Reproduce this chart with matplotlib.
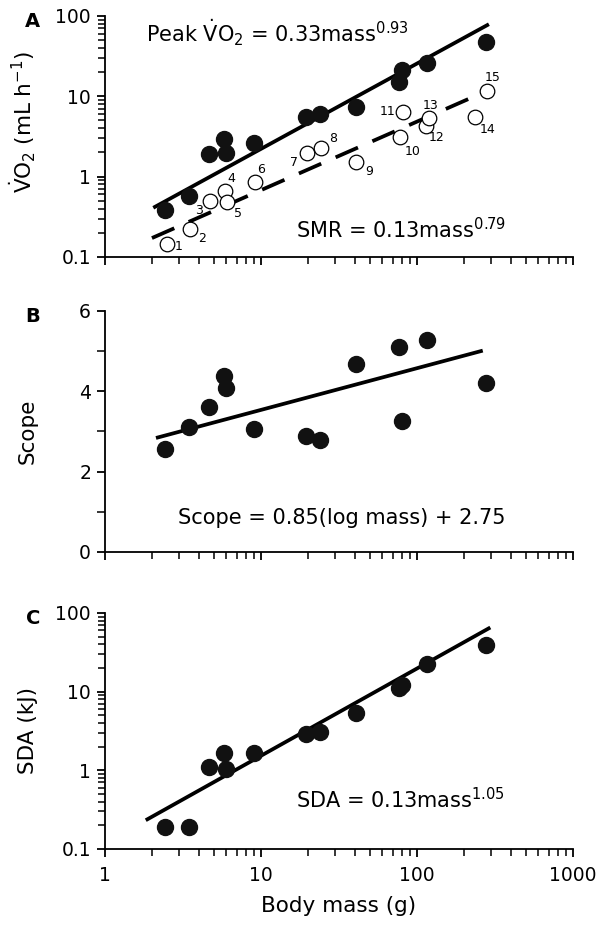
import numpy as np
import matplotlib
matplotlib.use("Agg")
import matplotlib.pyplot as plt
from matplotlib.ticker import LogLocator, NullFormatter, FixedLocator

plt.rcParams["font.family"] = ["DejaVu Sans"]
plt.rcParams["mathtext.fontset"] = "dejavusans"

# Body mass (g) of the 15 species with SMR, and of the 13 with peak / scope / SDA
smr_mass = [2.48, 3.50, 4.72, 5.84, 6.08, 9.1, 19.6, 24.1, 40.9, 78.2, 81.3, 114, 119, 235, 281]
smr_vo2 = [0.147, 0.223, 0.50, 0.667, 0.478, 0.846, 1.96, 2.28, 1.51, 3.09, 6.43, 4.27, 5.32, 5.57, 11.6]
smr_ids = [str(i) for i in range(1, 16)]

mass = [2.44, 3.45, 4.65, 5.8, 6.0, 9.0, 19.5, 23.9, 40.5, 77.0, 80.0, 116, 276]
peak_vo2 = [0.387, 0.567, 1.90, 2.92, 1.99, 2.60, 5.57, 5.96, 7.28, 14.9, 21.2, 26.1, 47.6]
scope = [2.56, 3.10, 3.61, 4.38, 4.07, 3.07, 2.88, 2.78, 4.69, 5.10, 3.27, 5.27, 4.21]
sda = [0.192, 0.192, 1.11, 1.65, 1.03, 1.65, 2.90, 3.10, 5.41, 11.2, 12.0, 22.4, 38.7]

# Fitted lines as drawn: (coefficient, exponent, x start, x end)
peak_fit = (0.192, 1.062, 2.04, 289)
smr_fit = (0.0952, 0.853, 2.0, 265)
scope_fit = (2.499, 1.038, 2.18, 257)   # intercept, slope on log10(mass)
sda_fit = (0.119, 1.109, 1.87, 288)

# label offsets (points) for species numbers
id_offsets = [(9, -2), (9, -7), (-8, -7), (5, 9), (8, -8), (5, 9), (-9, -7), (9, 7),
              (9, -7), (9, -10), (-11, 0), (8, -8), (1, 9), (9, -9), (4, 10)]

fig = plt.figure(figsize=(6.01, 9.26), dpi=100)
left, width = 0.1747, 0.7787
axA = fig.add_axes([left, 0.7225, width, 0.2603])
axB = fig.add_axes([left, 0.4039, width, 0.2603])
axC = fig.add_axes([left, 0.0832, width, 0.2549])

tick_fs = 13.5
note_fs = 15
label_fs = 15.5
for ax in (axA, axB, axC):
    ax.set_xscale("log")
    ax.set_xlim(1, 1000)
    ax.spines["top"].set_visible(False)
    ax.spines["right"].set_visible(False)
    ax.spines["left"].set_linewidth(1.3)
    ax.spines["bottom"].set_linewidth(1.3)
    ax.xaxis.set_major_locator(LogLocator(base=10, numticks=10))
    ax.xaxis.set_minor_locator(LogLocator(base=10, subs=np.arange(2, 10), numticks=10))
    ax.xaxis.set_minor_formatter(NullFormatter())
    ax.tick_params(which="major", direction="out", length=6, width=1.3, labelsize=tick_fs, pad=4)
    ax.tick_params(which="minor", direction="out", length=5, width=1.1)
    ax.tick_params(axis="x", which="major", pad=6)
    ax.yaxis.set_label_coords(-0.143, 0.5)

for ax in (axA, axB):
    ax.tick_params(axis="x", which="both", labelbottom=False)

axC.set_xticks([1, 10, 100, 1000])
axC.set_xticklabels(["1", "10", "100", "1000"])

# ---- Panel A
axA.set_yscale("log")
axA.set_ylim(0.1, 100)
axA.set_yticks([0.1, 1, 10, 100])
axA.set_yticklabels(["0.1", "1", "10", "100"])
axA.yaxis.set_minor_locator(LogLocator(base=10, subs=np.arange(2, 10), numticks=10))
axA.yaxis.set_minor_formatter(NullFormatter())

xs = np.array([peak_fit[2], peak_fit[3]])
axA.plot(xs, peak_fit[0] * xs ** peak_fit[1], color="black", lw=2.7, solid_capstyle="butt", zorder=2)
xs = np.array([smr_fit[2], smr_fit[3]])
axA.plot(xs, smr_fit[0] * xs ** smr_fit[1], color="black", lw=2.7, dashes=(6.5, 4.2),
         dash_capstyle="butt", zorder=2)
axA.plot(mass, peak_vo2, "o", color="#111111", ms=11.5, zorder=3)
axA.plot(smr_mass, smr_vo2, "o", mfc="white", mec="black", mew=0.9, ms=10.5, zorder=3)
for m, v, t, off in zip(smr_mass, smr_vo2, smr_ids, id_offsets):
    axA.annotate(t, (m, v), textcoords="offset points", xytext=off, fontsize=9,
                 ha="center", va="center")

axA.text(0.088, 0.93, r"Peak $\dot{\mathrm{V}}\mathrm{O}_2$ = 0.33mass$^{0.93}$",
         transform=axA.transAxes, fontsize=note_fs, ha="left", va="center")
axA.text(0.408, 0.112, r"SMR = 0.13mass$^{0.79}$", transform=axA.transAxes,
         fontsize=note_fs, ha="left", va="center")
axA.set_ylabel(r"$\dot{\mathrm{V}}\mathrm{O}_2$ (mL h$^{\mathrm{-1}}$)", fontsize=label_fs)
axA.yaxis.set_label_coords(-0.143, 0.56)

# ---- Panel B
axB.set_ylim(0, 6)
axB.yaxis.set_major_locator(FixedLocator([0, 2, 4, 6]))
axB.yaxis.set_minor_locator(FixedLocator([1, 3, 5]))
axB.tick_params(axis="y", which="minor", length=6)
xs = np.array([scope_fit[2], scope_fit[3]])
axB.plot(xs, scope_fit[0] + scope_fit[1] * np.log10(xs), color="black", lw=2.7, zorder=2)
axB.plot(mass, scope, "o", color="#111111", ms=11.5, zorder=3)
axB.text(0.156, 0.141, "Scope = 0.85(log mass) + 2.75", transform=axB.transAxes,
         fontsize=note_fs, ha="left", va="center")
axB.set_ylabel("Scope", fontsize=label_fs)

# ---- Panel C
axC.set_yscale("log")
axC.set_ylim(0.1, 100)
axC.set_yticks([0.1, 1, 10, 100])
axC.set_yticklabels(["0.1", "1", "10", "100"])
axC.yaxis.set_minor_locator(LogLocator(base=10, subs=np.arange(2, 10), numticks=10))
axC.yaxis.set_minor_formatter(NullFormatter())
xs = np.array([sda_fit[2], sda_fit[3]])
axC.plot(xs, sda_fit[0] * xs ** sda_fit[1], color="black", lw=2.7, zorder=2)
axC.plot(mass, sda, "o", color="#111111", ms=11.5, zorder=3)
axC.text(0.408, 0.208, r"SDA = 0.13mass$^{1.05}$", transform=axC.transAxes,
         fontsize=note_fs, ha="left", va="center")
axC.set_ylabel("SDA (kJ)", fontsize=label_fs)
axC.set_xlabel("Body mass (g)", fontsize=label_fs, labelpad=8)

# panel letters
for ax, letter in ((axA, "A"), (axB, "B"), (axC, "C")):
    ax.text(-0.154, 0.975, letter, transform=ax.transAxes, fontsize=14,
            fontweight="bold", ha="center", va="center")

for ax in (axA, axB, axC):
    for line in ax.lines:
        line.set_clip_on(False)

fig.savefig("out.png", dpi=100)
